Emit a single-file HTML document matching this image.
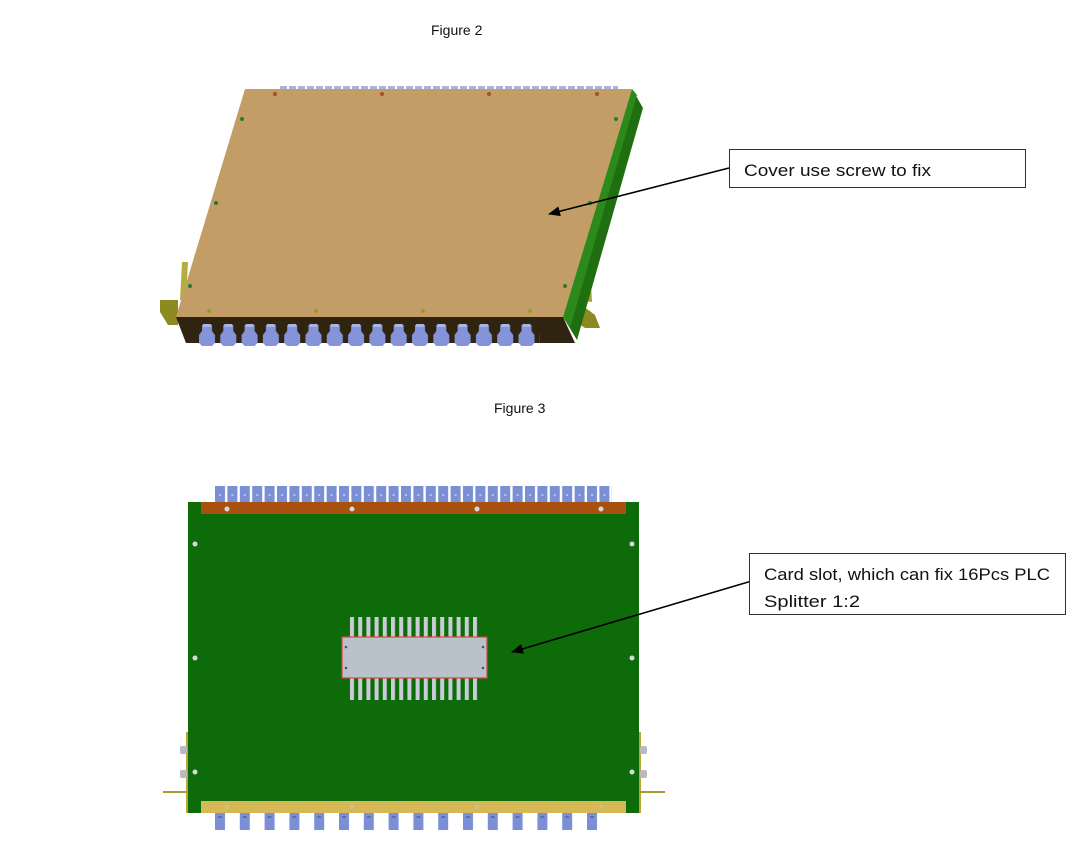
<!DOCTYPE html>
<html><head><meta charset="utf-8"><style>
html,body{margin:0;padding:0;background:#fff;}
svg{display:block}
text{font-family:"Liberation Sans",sans-serif;fill:#111}
</style></head><body>
<svg width="1073" height="844" viewBox="0 0 1073 844" xmlns="http://www.w3.org/2000/svg">
<defs>
<pattern id="topc" x="215" y="486" width="12.4" height="16" patternUnits="userSpaceOnUse">
<rect x="0" y="0" width="10" height="16" fill="#7b8fd6"/><rect x="4" y="8" width="2" height="2" fill="#b8c4ee"/></pattern>
<pattern id="botc" x="215" y="813" width="24.8" height="17" patternUnits="userSpaceOnUse">
<rect x="0" y="0" width="10" height="17" fill="#7b8fd6"/><rect x="3" y="3" width="4" height="2" fill="#5a6cb8"/></pattern>
<pattern id="fins" x="350" y="0" width="8.2" height="30" patternUnits="userSpaceOnUse">
<rect x="0" y="0" width="4" height="30" fill="#c7ccd6"/></pattern>
<pattern id="f2c" x="199" y="322" width="21.3" height="26" patternUnits="userSpaceOnUse">
<path d="M3 3 h10 v6 l3 4 v8 l-3 3 h-10 l-3 -3 v-8 l3 -4z" fill="#8594d8"/><rect x="4" y="2" width="8" height="3" fill="#a9b4e8"/></pattern>
<pattern id="f2t" x="280" y="86" width="9" height="4" patternUnits="userSpaceOnUse">
<rect x="0" y="0" width="7" height="3" fill="#aab3d8"/></pattern>
<marker id="ah" markerWidth="12" markerHeight="10" refX="11" refY="5" orient="auto" markerUnits="userSpaceOnUse">
<path d="M0 0 L12 5 L0 10 z" fill="#000"/></marker>
</defs>

<text x="431" y="35" font-size="14">Figure 2</text>
<text x="494" y="413" font-size="14">Figure 3</text>

<!-- Figure 2 -->
<rect x="278" y="86" width="340" height="4" fill="url(#f2t)"/>
<path d="M160 300 L178 300 L178 325 L168 325 L160 312z" fill="#8c8a20"/>
<path d="M575 300 L595 315 L600 328 L585 328 L570 318z" fill="#8c8a20"/>
<path d="M572 258 L590 268 L592 302 L574 300z" fill="#a8a035"/>
<path d="M182 262 L188 262 L186 300 L180 300z" fill="#b5ad40"/>
<path d="M176 317 L563 317 L575 343 L186 343z" fill="#2e2410"/>
<rect x="199" y="322" width="341" height="26" fill="url(#f2c)"/>
<path d="M632 89 L643 108 L577 340 L563 317z" fill="#1f6e10"/>
<path d="M632 89 L637 95 L570 328 L563 317z" fill="#2d8a1a"/>
<path d="M245 89 L632 89 L563 317 L176 317z" fill="#c29e66"/>
<g fill="#a0522d"><circle cx="275" cy="94" r="2"/><circle cx="382" cy="94" r="2"/><circle cx="489" cy="94" r="2"/><circle cx="597" cy="94" r="2"/></g>
<g fill="#2a7a2a"><circle cx="242" cy="119" r="2"/><circle cx="616" cy="119" r="2"/><circle cx="216" cy="203" r="2"/><circle cx="590" cy="203" r="2"/><circle cx="190" cy="286" r="2"/><circle cx="565" cy="286" r="2"/></g>
<g fill="#8c9a20"><circle cx="209" cy="311" r="1.8"/><circle cx="316" cy="311" r="1.8"/><circle cx="423" cy="311" r="1.8"/><circle cx="530" cy="311" r="1.8"/></g>
<line x1="729" y1="168" x2="549" y2="214" stroke="#000" stroke-width="1.6" marker-end="url(#ah)"/>
<rect x="729.5" y="149.5" width="296" height="38" fill="#fff" stroke="#333" stroke-width="1"/>
<text x="744" y="176" font-size="16.5" textLength="187" lengthAdjust="spacingAndGlyphs">Cover use screw to fix</text>

<!-- Figure 3 -->
<rect x="215" y="486" width="397" height="16" fill="url(#topc)"/>
<rect x="186" y="732" width="4" height="81" fill="#b9a636"/>
<rect x="637" y="732" width="4" height="81" fill="#b9a636"/>
<line x1="163" y1="792" x2="188" y2="792" stroke="#a89a30" stroke-width="2"/>
<line x1="640" y1="792" x2="665" y2="792" stroke="#a89a30" stroke-width="2"/>
<g fill="#b8bcc0"><rect x="180" y="746" width="7" height="8" rx="2"/><rect x="180" y="770" width="7" height="8" rx="2"/><rect x="640" y="746" width="7" height="8" rx="2"/><rect x="640" y="770" width="7" height="8" rx="2"/></g>
<rect x="188" y="502" width="451" height="311" fill="#0d6b0a"/>
<rect x="201" y="502" width="425" height="12" fill="#a8500e"/>
<rect x="201" y="801" width="425" height="12" fill="#d7b856"/>
<rect x="215" y="813" width="387" height="17" fill="url(#botc)"/>
<g fill="#d8d8d8"><circle cx="227" cy="509" r="2.5"/><circle cx="352" cy="509" r="2.5"/><circle cx="477" cy="509" r="2.5"/><circle cx="601" cy="509" r="2.5"/>
<circle cx="195" cy="544" r="2.5"/><circle cx="632" cy="544" r="2.5"/><circle cx="195" cy="658" r="2.5"/><circle cx="632" cy="658" r="2.5"/><circle cx="195" cy="772" r="2.5"/><circle cx="632" cy="772" r="2.5"/></g>
<g fill="#c8c8a8" opacity="0.6"><circle cx="227" cy="807" r="2"/><circle cx="352" cy="807" r="2"/><circle cx="477" cy="807" r="2"/><circle cx="601" cy="807" r="2"/></g>
<rect x="350" y="617" width="131" height="21" fill="url(#fins)"/>
<rect x="350" y="677" width="131" height="23" fill="url(#fins)"/>
<rect x="342" y="637" width="145" height="41" fill="#b9c1cb" stroke="#e04040" stroke-width="1.2"/>
<g fill="#556"><circle cx="346" cy="647" r="1.3"/><circle cx="346" cy="668" r="1.3"/><circle cx="483" cy="647" r="1.3"/><circle cx="483" cy="668" r="1.3"/></g>
<line x1="755" y1="580" x2="512" y2="652" stroke="#000" stroke-width="1.6" marker-end="url(#ah)"/>
<rect x="749.5" y="553.5" width="316" height="61" fill="#fff" stroke="#333" stroke-width="1"/>
<text x="764" y="580" font-size="16.5" textLength="286" lengthAdjust="spacingAndGlyphs">Card slot, which can fix 16Pcs PLC</text>
<text x="764" y="607" font-size="16.5" textLength="96" lengthAdjust="spacingAndGlyphs">Splitter 1:2</text>
</svg>
</body></html>
